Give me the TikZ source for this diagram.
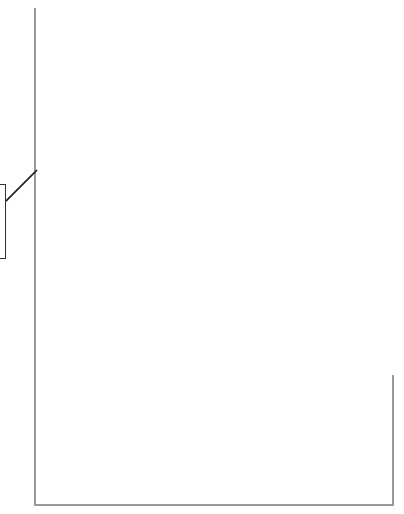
\documentclass[tikz,border=0pt]{standalone}
\begin{document}
\begin{tikzpicture}[x=1pt,y=-1pt,
  wall/.style={draw=black!40, line width=1.6pt},
  leader/.style={draw=black!85, line width=1.6pt},
  callout/.style={draw=black!80, line width=1.4pt, fill=none, minimum width=14pt, minimum height=74pt, inner sep=0pt}]
\useasboundingbox (0,0) rectangle (404,514);
\coordinate (top) at (35,8);
\coordinate (bl) at (35,505);
\coordinate (br) at (393,505);
\coordinate (rt) at (393,375);
\coordinate (tip) at (37,170);
\draw[wall] (top) -- (bl) -- (br) -- (rt);
\node[callout, anchor=north east] (box) at (6,184) {};
\draw[leader] ([yshift=-17pt]box.north east) -- (tip);
\end{tikzpicture}
\end{document}
